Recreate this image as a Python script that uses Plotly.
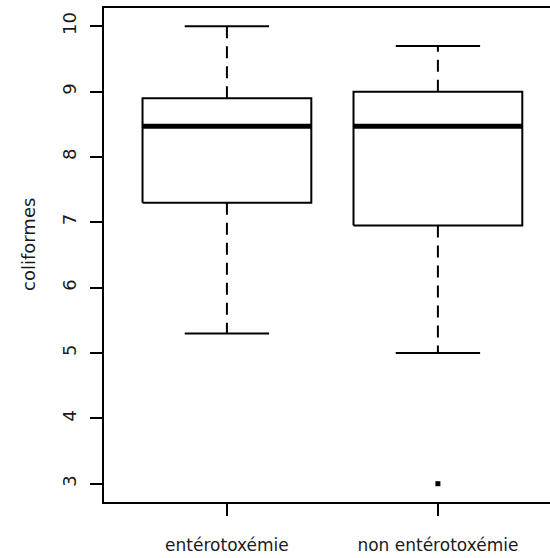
import plotly.graph_objects as go

groups = ["entérotoxémie", "non entérotoxémie"]
positions = [1, 2]
lower_whisker = [5.3, 5.0]
q1 = [7.3, 6.95]
median = [8.47, 8.47]
q3 = [8.9, 9.0]
upper_whisker = [10.0, 9.7]
outlier_group = [2]
outlier_values = [3.0]
y_ticks = [3, 4, 5, 6, 7, 8, 9, 10]

BOX_HALF = 0.4
CAP_HALF = 0.2
FONT = "DejaVu Sans"
TXT = "#1a1a1a"

fig = go.Figure()

for i, x in enumerate(positions):
    # box rectangle
    fig.add_trace(go.Scatter(
        x=[x - BOX_HALF, x + BOX_HALF, x + BOX_HALF, x - BOX_HALF, x - BOX_HALF],
        y=[q1[i], q1[i], q3[i], q3[i], q1[i]],
        mode="lines", line=dict(color="black", width=2),
        hoverinfo="skip", showlegend=False))
    # whiskers (dashed)
    fig.add_trace(go.Scatter(
        x=[x, x, None, x, x],
        y=[q3[i], upper_whisker[i], None, q1[i], lower_whisker[i]],
        mode="lines", line=dict(color="black", width=2, dash="12px,8px"),
        hoverinfo="skip", showlegend=False))
    # caps
    fig.add_trace(go.Scatter(
        x=[x - CAP_HALF, x + CAP_HALF, None, x - CAP_HALF, x + CAP_HALF],
        y=[upper_whisker[i], upper_whisker[i], None, lower_whisker[i], lower_whisker[i]],
        mode="lines", line=dict(color="black", width=2),
        hoverinfo="skip", showlegend=False))
    # median
    fig.add_trace(go.Scatter(
        x=[x - BOX_HALF, x + BOX_HALF],
        y=[median[i], median[i]],
        mode="lines", line=dict(color="black", width=5),
        hoverinfo="skip", showlegend=False))

fig.add_trace(go.Scatter(
    x=outlier_group, y=outlier_values, mode="markers",
    marker=dict(symbol="square", size=5, color="black"),
    hoverinfo="skip", showlegend=False))

fig.update_layout(
    width=550, height=558,
    margin=dict(l=104, r=0, t=8, b=56),
    plot_bgcolor="white", paper_bgcolor="white",
    font=dict(family=FONT, color=TXT),
    showlegend=False,
)

fig.update_xaxes(
    range=[0.4174, 2.5313],
    tickvals=positions, ticktext=groups,
    ticks="outside", ticklen=12, tickwidth=2, tickcolor="black",
    showline=True, linewidth=2, linecolor="black", mirror=True,
    showgrid=False, zeroline=False,
    tickfont=dict(family=FONT, size=17, color=TXT),
    ticklabelstandoff=15,
)
fig.update_yaxes(
    range=[2.72, 10.28],
    tickvals=y_ticks, ticktext=[str(v) for v in y_ticks],
    tickangle=-90,
    ticks="outside", ticklen=12, tickwidth=2, tickcolor="black",
    showline=True, linewidth=2, linecolor="black", mirror=False,
    showgrid=False, zeroline=False,
    tickfont=dict(family=FONT, size=18, color=TXT),
    ticklabelstandoff=7,
)

fig.add_annotation(
    text="coliformes", xref="paper", yref="paper",
    x=0, y=0.5, xanchor="center", yanchor="middle",
    xshift=-76, yshift=10, textangle=-90, showarrow=False,
    font=dict(family=FONT, size=18, color=TXT),
)

fig.write_html("out.html")
